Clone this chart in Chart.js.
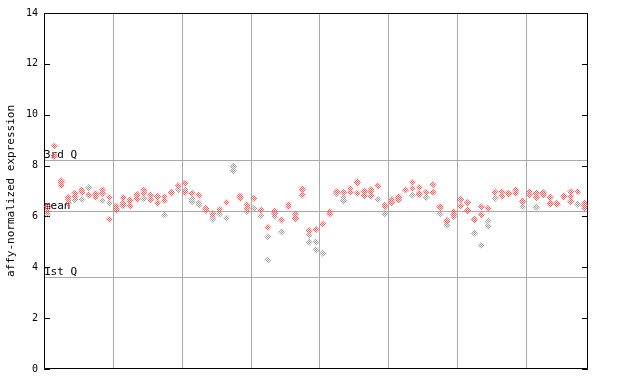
<!DOCTYPE html>
<html><head><meta charset="utf-8">
<script src="https://cdn.jsdelivr.net/npm/chart.js@4"></script>
<style>html,body{margin:0;padding:0;background:#fff}</style>
</head><body>
<canvas id="c" width="640" height="384" style="display:block;width:640px;height:384px"></canvas>
<script>
const yTicks = [0, 2, 4, 6, 8, 10, 12, 14];
const xGrid = [10, 20, 30, 40, 50, 60, 70];
const sampleCount = 79;
const quartileValues = [8.22, 6.2, 3.61];
const quartileLabels = ['3rd Q', 'mean', '1st Q'];
const yTitle = 'affy-normalized expression';

// per sample values (sample 0 .. 78)
const redValues = [
  [6.35, 6.39, 6.2], [8.77, 8.39, 8.35], [7.4, 7.34, 7.22], [6.75, 6.52], [6.91, 6.78],
  [7.04, 6.95], [6.84], [6.91, 6.87, 6.75], [7.04, 6.91], [6.75, 5.89],
  [6.41, 6.29, 6.25], [6.74, 6.52, 6.48], [6.65, 6.61, 6.41], [6.87, 6.83, 6.69], [7.04, 6.91],
  [6.84, 6.65], [6.78, 6.52], [6.78, 6.62], [6.95, 6.91], [7.2],
  [7.3, 6.95], [6.91], [6.84], [6.32, 6.28, 6.25], [6.1],
  [6.28], [6.55], [], [6.8, 6.76, 6.71], [6.45, 6.32],
  [6.71], [6.25], [5.57], [6.22, 6.12], [5.86],
  [6.47, 6.38], [6.1, 5.95, 5.91], [7.09, 7.05, 6.84], [5.44], [5.49],
  [5.7], [6.19, 6.1], [6.97], [6.95], [7.1, 6.95],
  [7.37, 7.33, 6.91], [7.01, 6.97, 6.81], [7.06, 6.97, 6.8], [7.2], [6.45, 6.38],
  [6.67, 6.57, 6.53], [6.78, 6.74, 6.65], [7.04], [7.34, 7.1], [7.14, 6.91, 6.87],
  [6.95], [7.25, 6.95], [6.38, 6.34], [5.85, 5.81], [6.19, 6.06],
  [6.67, 6.41], [6.54, 6.25, 6.21], [5.9, 5.86], [6.38, 6.06], [6.32],
  [6.95], [6.97, 6.8], [6.91, 6.87], [7.04, 6.91], [6.61, 6.57],
  [6.97, 6.84], [6.91, 6.75], [6.94, 6.9, 6.84], [6.75, 6.52, 6.48], [6.52, 6.48],
  [6.81, 6.77], [6.97, 6.78, 6.58], [6.97], [6.54, 6.42, 6.32]
];
const grayValues = [
  [6.1], [], [], [6.65], [6.65],
  [6.67], [7.13], [], [6.62], [6.52],
  [], [6.41], [], [], [6.7],
  [], [], [6.06], [], [7.04],
  [7.04], [6.69, 6.58], [6.54, 6.45], [], [5.99, 5.89],
  [6.1], [5.93], [7.96, 7.8], [], [6.19],
  [6.32], [6.02], [5.2, 4.29], [5.99], [5.39],
  [], [], [], [5.27, 4.99], [4.99, 4.68],
  [4.55], [], [6.91], [6.75, 6.62], [],
  [], [], [], [6.67], [6.1],
  [], [], [], [6.84], [],
  [6.75], [], [6.1], [5.66], [5.97],
  [], [], [5.34], [4.86], [5.82, 5.62],
  [6.71], [], [], [], [6.38],
  [], [6.36], [], [], [],
  [], [], [6.48], []
];

function toPoints(groups) {
  const pts = [];
  groups.forEach((vals, i) => vals.forEach(v => pts.push({ x: i + 0.5, y: v })));
  return pts;
}

const canvas = document.getElementById('c');
const ctx0 = canvas.getContext('2d');
function hatch(color) {
  const c = document.createElement('canvas');
  c.width = 2; c.height = 2;
  const g = c.getContext('2d');
  g.fillStyle = color;
  g.fillRect(0, 0, 1, 1);
  g.fillRect(1, 1, 1, 1);
  return ctx0.createPattern(c, 'repeat');
}
const RED = '#ff4f4f';
const GRAY = '#999999';
const MONO = '"DejaVu Sans Mono", "Liberation Mono", monospace';

const deco = {
  id: 'deco',
  beforeDatasetsDraw(chart) {
    const { ctx, chartArea: a, scales: { x, y } } = chart;
    ctx.save();
    ctx.lineWidth = 1;
    ctx.strokeStyle = '#aaaaaa';
    xGrid.forEach(v => {
      const px = Math.round(x.getPixelForValue(v)) + 0.5;
      ctx.beginPath(); ctx.moveTo(px, a.top); ctx.lineTo(px, a.bottom); ctx.stroke();
    });
    quartileValues.forEach(v => {
      const py = Math.round(y.getPixelForValue(v)) + 0.5;
      ctx.beginPath(); ctx.moveTo(a.left, py); ctx.lineTo(a.right, py); ctx.stroke();
    });
    ctx.fillStyle = '#000';
    ctx.font = '11px ' + MONO;
    ctx.textAlign = 'left';
    ctx.textBaseline = 'alphabetic';
    quartileLabels.forEach((t, k) => {
      const py = Math.round(y.getPixelForValue(quartileValues[k]));
      ctx.fillText(t, a.left, py - 2);
    });
    ctx.strokeStyle = '#000';
    ctx.beginPath();
    ctx.rect(a.left + 0.5, a.top + 0.5, a.right - a.left - 1, a.bottom - a.top - 1);
    ctx.stroke();
    yTicks.forEach(v => {
      const py = Math.round(y.getPixelForValue(v)) + 0.5;
      ctx.beginPath();
      ctx.moveTo(a.left, py); ctx.lineTo(a.left + 6, py);
      ctx.moveTo(a.right - 6, py); ctx.lineTo(a.right, py);
      ctx.stroke();
    });
    ctx.restore();
  }
};

new Chart(canvas, {
  type: 'scatter',
  data: {
    datasets: [
      { label: 'red', data: toPoints(redValues), pointStyle: 'rectRot', pointRadius: 3.6,
        backgroundColor: hatch(RED), borderWidth: 0, borderColor: 'rgba(0,0,0,0)' },
      { label: 'gray', data: toPoints(grayValues), pointStyle: 'rectRot', pointRadius: 3.6,
        backgroundColor: hatch(GRAY), borderWidth: 0, borderColor: 'rgba(0,0,0,0)' }
    ]
  },
  options: {
    responsive: false,
    devicePixelRatio: 1,
    animation: false,
    layout: { padding: { top: 13, right: 52, bottom: 15, left: 0 } },
    plugins: { legend: { display: false }, tooltip: { enabled: false } },
    elements: { point: { hoverRadius: 3.6 } },
    scales: {
      x: { type: 'linear', min: 0, max: sampleCount, display: false },
      y: {
        min: 0, max: 14,
        afterFit: s => { s.width = 44; },
        afterBuildTicks: s => { s.ticks = yTicks.map(v => ({ value: v })); },
        grid: { display: false, drawTicks: false },
        border: { display: false },
        ticks: { color: '#000', padding: 6, font: { family: MONO, size: 10 } },
        title: { display: true, text: yTitle, color: '#000', padding: { top: 5, bottom: 0 },
                 font: { family: MONO, size: 11 } }
      }
    }
  },
  plugins: [deco]
});
</script>
</body></html>
